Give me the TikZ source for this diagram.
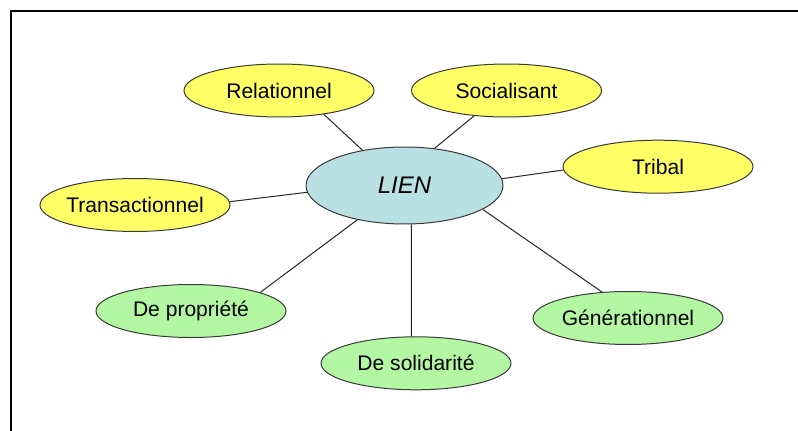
\documentclass[tikz,border=0pt]{standalone}
\usepackage{fontspec}
\setmainfont{Liberation Sans}
\usetikzlibrary{shapes.geometric}

\definecolor{jaune}{HTML}{FFFF66}
\definecolor{vert}{HTML}{B3F7A3}
\definecolor{bleu}{HTML}{B9E0E3}
\definecolor{bord}{HTML}{3A3A3A}

\begin{document}
\begin{tikzpicture}[x=0.75pt, y=-0.75pt,
	centre/.style={draw=bord, ellipse, fill=bleu, line width=0.75pt, minimum width=147.75pt, minimum height=57.75pt, inner sep=0pt, font=\fontsize{18}{20}\selectfont\itshape},
	bulle/.style={draw=bord, ellipse, line width=0.75pt, minimum width=142.5pt, minimum height=39.75pt, inner xsep=-4pt, inner ysep=0pt, font=\fontsize{15.8}{18}\selectfont},
	trait/.style={draw=black!85, line width=0.75pt}]
	\useasboundingbox (0,0) rectangle (798,431);
	\draw[line width=0.9pt] (11,431) -- (11,11) -- (798,11);
	% LIEN et ses types
	\node[centre] (L) at (404.5,185.5) {LIEN};
	\foreach \nom/\x/\y/\txt/\col/\ang/\angc in {
		Rel/279/90.5/Relationnel/jaune/-28/140.5,
		Soc/506.5/90.5/Socialisant/jaune/218.4/51.6,
		Tri/658/166.7/Tribal/jaune/182/4.6,
		Tra/135/205/Transactionnel/jaune/2.4/184.2,
		Pro/191/311/De propriété/vert/15.6/216.2,
		Sol/416/363.3/De solidarité/vert/100.9/-80.4,
		Gen/628/318/Générationnel/vert/135.3/-17.5} {
		\node[bulle, fill=\col] (\nom) at (\x,\y) {\txt};
		\draw[trait] (\nom.\ang) -- (L.\angc);
	}
\end{tikzpicture}
\end{document}
